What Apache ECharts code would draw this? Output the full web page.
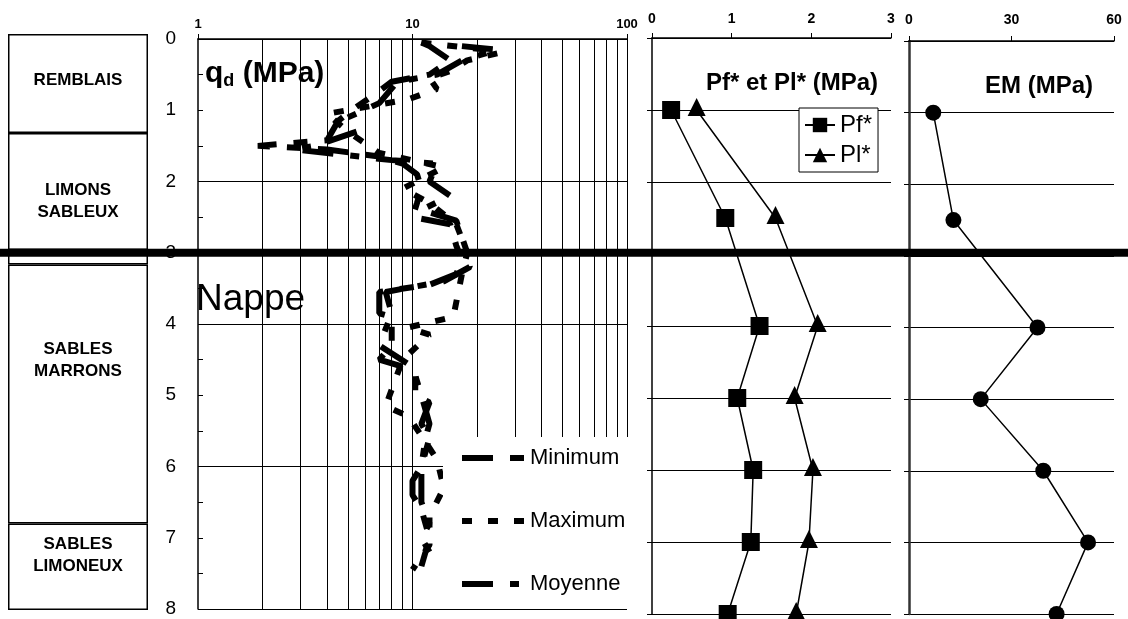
<!DOCTYPE html>
<html>
<head>
<meta charset="utf-8">
<script src="https://cdn.jsdelivr.net/npm/echarts@6/dist/echarts.min.js"></script>
<style>
  html, body { margin: 0; padding: 0; background: #fff; }
  #chart { width: 1128px; height: 619px; }
</style>
</head>
<body>
<div id="chart"></div>
<script>
// soil column (thickness in m, top to bottom)
const layerNames = ['REMBLAIS', 'LIMONS\nSABLEUX', '', 'SABLES\nMARRONS', 'SABLES\nLIMONEUX']
const layerThickness = [1.375, 1.625, 0.2, 3.6, 1.2]
const nappeDepth = 3

// penetrometer qd profiles: [qd (MPa), depth (m)]
const qdMin = [[11, 0.05], [12, 0.1], [15, 0.3], [12, 0.5], [8, 0.6], [6.5, 0.8], [5.2, 1.0], [4.5, 1.15],
  [4, 1.42], [1.9, 1.5], [4, 1.55], [7, 1.65], [9, 1.75], [10.5, 1.9], [11, 2.1], [10.5, 2.3], [10, 2.5],
  [15, 2.6], [16, 2.9], [17, 3.1], [16, 3.3], [12, 3.45], [7, 3.55], [7, 3.85], [8, 3.9], [8, 4.3], [7, 4.5],
  [9, 4.6], [10.3, 4.7], [10.3, 5.0], [12, 5.1], [11, 5.4], [12, 5.6], [11, 6.0], [10, 6.2], [10, 6.4],
  [11, 6.6], [12, 7.0], [11.5, 7.2], [11, 7.4]]
const qdMax = [[11, 0.05], [22, 0.15], [25, 0.2], [18, 0.3], [15, 0.45], [12, 0.55], [13, 0.7], [9.5, 0.85],
  [4, 1.05], [5, 1.3], [7, 1.6], [14, 1.8], [9, 2.1], [12, 2.3], [16, 2.6], [18, 3.0], [17, 3.3], [15.5, 3.9],
  [9.5, 4.05], [12, 4.15], [9, 4.5], [7.5, 5.15], [9.6, 5.3], [13, 5.9], [14, 6.3], [12, 6.7], [12, 7.1], [10, 7.45]]
const qdMoy = [[17, 0.1], [25, 0.15], [17, 0.3], [13, 0.5], [8.5, 0.6], [7, 0.9], [5, 1.1], [5.5, 1.3],
  [3.5, 1.5], [2.8, 1.55], [4, 1.6], [8, 1.7], [13, 1.75], [12, 2.0], [15, 2.2], [11, 2.4], [16, 2.55],
  [18, 3.0], [18.5, 3.2], [14, 3.4], [7.5, 3.55], [8, 3.85], [7, 4.3], [10, 4.6], [11, 5.0], [12, 5.4],
  [11.5, 5.6], [11, 6.0], [11, 6.5], [12, 6.8], [11, 7.0], [12, 7.2]]
const qdGridValues = [2, 3, 4, 5, 6, 7, 8, 9, 10, 20, 30, 40, 50, 60, 70, 80, 90, 100]

// pressiometer tests
const pmDepth = [1, 2.5, 4, 5, 6, 7, 8]
const pfValues = [0.24, 0.92, 1.35, 1.07, 1.27, 1.24, 0.95]
const plValues = [0.56, 1.55, 2.08, 1.79, 2.02, 1.97, 1.81]
const emValues = [7.1, 13, 37.6, 21, 39.3, 52.4, 43.2]

const font = 'Arial, "Liberation Sans", sans-serif'
const labelDy = [-3, 10, 0, -34, -11]
const dashMin = [31, 17, 14, 17]
const dashMax = [10, 16]
const dashMoy = [31, 17, 9, 17]

const chart = echarts.init(document.getElementById('chart'))

const depthAxis = (grid, extra) => Object.assign({
  type: 'value', gridIndex: grid, inverse: true, min: 0, max: 8, interval: 1,
  axisLine: { show: true, lineStyle: { color: '#000', width: 1.5 } },
  axisTick: { show: true, length: 5, lineStyle: { color: '#000' } },
  axisLabel: { show: false },
  splitLine: { show: true, lineStyle: { color: '#000', width: 1 } }
}, extra)

const topAxis = (grid, min, max, interval, margin, extra) => Object.assign({
  type: 'value', gridIndex: grid, position: 'top', min: min, max: max, interval: interval,
  axisLine: { show: true, lineStyle: { color: '#000', width: 1.5 } },
  axisTick: { show: true, length: 5, lineStyle: { color: '#000' } },
  axisLabel: { fontFamily: font, fontWeight: 'bold', fontSize: 14, color: '#000', margin: margin },
  splitLine: { show: false }
}, extra)

const soilSeries = layerNames.map((name, i) => ({
  type: 'bar', name: 'layer' + i, xAxisIndex: 0, yAxisIndex: 0, stack: 'soil',
  barWidth: '100%', data: [layerThickness[i]],
  itemStyle: { color: '#fff', borderColor: '#000', borderWidth: 1.5 },
  label: {
    show: name !== '', position: 'inside', offset: [0, labelDy[i]], formatter: name,
    fontFamily: font, fontWeight: 'bold', fontSize: 17, lineHeight: 22, color: '#000'
  }
}))

const qdLine = (name, data, dash) => ({
  type: 'line', name: name, xAxisIndex: 1, yAxisIndex: 1, data: data, z: 2,
  symbol: 'none', itemStyle: { color: '#000' },
  lineStyle: { color: '#000', width: 6, type: dash }
})

// log grid lines of the qd panel hang on the first qd series
const minSeries = qdLine('Minimum', qdMin, dashMin)
minSeries.z = 1
minSeries.markLine = {
  silent: true, symbol: ['none', 'none'], label: { show: false }, animation: false,
  lineStyle: { color: '#000', width: 1, type: 'solid' },
  data: qdGridValues.map(v => ({ xAxis: v }))
}

const qdLegendItem = (name, dash) => ({
  name: name,
  itemStyle: { opacity: 0 },
  lineStyle: { color: '#000', width: 6, type: dash, opacity: 1 }
})

const option = {
  animation: false,
  backgroundColor: '#fff',
  grid: [
    { left: 8, top: 34, width: 140, height: 576, outerBoundsMode: 'none' },
    { left: 198, top: 39, width: 429, height: 570, outerBoundsMode: 'none' },
    { left: 652, top: 38, width: 239, height: 576, outerBoundsMode: 'none' },
    { left: 909, top: 41, width: 205, height: 573, outerBoundsMode: 'none' }
  ],
  title: [
    {
      text: '{a|q}{b|d}{a| (MPa)}', left: 205, top: 58, padding: 0,
      textStyle: { rich: {
        a: { fontFamily: font, fontWeight: 'bold', fontSize: 30, color: '#000' },
        b: { fontFamily: font, fontWeight: 'bold', fontSize: 18, color: '#000', padding: [14, 0, 0, 0] }
      } }
    },
    { text: 'Nappe', left: 196, top: 281, padding: 0,
      textStyle: { fontFamily: font, fontWeight: 'normal', fontSize: 37, color: '#000' } },
    { text: 'Pf* et Pl* (MPa)', left: 706, top: 71, padding: 0,
      textStyle: { fontFamily: font, fontWeight: 'bold', fontSize: 24, color: '#000' } },
    { text: 'EM (MPa)', left: 985, top: 74, padding: 0,
      textStyle: { fontFamily: font, fontWeight: 'bold', fontSize: 24, color: '#000' } }
  ],
  legend: [
    {
      data: [qdLegendItem('Minimum', dashMin), qdLegendItem('Maximum', dashMax), qdLegendItem('Moyenne', dashMoy)],
      orient: 'vertical', left: 443, top: 437,
      padding: [10, 10, 14, 16], itemWidth: 62, itemHeight: 20, itemGap: 41,
      backgroundColor: '#fff', selectedMode: false, z: 60,
      textStyle: { fontFamily: font, fontSize: 22, color: '#000', padding: [0, 0, 0, 1] }
    },
    {
      data: ['Pf*', 'Pl*'], orient: 'vertical', left: 799, top: 108,
      padding: [5, 6, 5, 5], itemWidth: 30, itemHeight: 18, itemGap: 6,
      borderColor: '#000', borderWidth: 1, backgroundColor: '#fff', selectedMode: false,
      textStyle: { fontFamily: font, fontSize: 24, color: '#000' }
    }
  ],
  xAxis: [
    { type: 'category', gridIndex: 0, data: ['sol'], show: false },
    topAxis(1, 1, 100, null, 8, { type: 'log', logBase: 10, interval: undefined,
      axisLabel: { fontFamily: font, fontWeight: 'bold', fontSize: 13, color: '#000', margin: 8 } }),
    topAxis(2, 0, 3, 1, 12),
    topAxis(3, 0, 60, 30, 14)
  ],
  yAxis: [
    { type: 'value', gridIndex: 0, inverse: true, min: 0, max: 8, show: false },
    depthAxis(1, {
      axisTick: { show: true, inside: true, length: 5, lineStyle: { color: '#000' } },
      minorTick: { show: true, splitNumber: 2, length: 5, lineStyle: { color: '#000' } },
      axisLabel: { show: true, fontFamily: '"Liberation Sans Narrow", Arial, sans-serif',
        fontSize: 19, color: '#000', margin: 22 },
      splitLine: { show: false }
    }),
    depthAxis(1, { interval: 2, axisLine: { show: false }, axisTick: { show: false } }),
    depthAxis(2),
    depthAxis(3, { axisLine: { show: true, lineStyle: { color: '#333', width: 2.5 } } })
  ],
  series: soilSeries.concat([
    minSeries,
    qdLine('Maximum', qdMax, dashMax),
    qdLine('Moyenne', qdMoy, dashMoy),
    {
      type: 'line', name: 'Pf*', xAxisIndex: 2, yAxisIndex: 3,
      data: pfValues.map((v, i) => [v, pmDepth[i]]),
      symbol: 'rect', symbolSize: 18, itemStyle: { color: '#000' },
      lineStyle: { color: '#000', width: 1.5 }
    },
    {
      type: 'line', name: 'Pl*', xAxisIndex: 2, yAxisIndex: 3,
      data: plValues.map((v, i) => [v, pmDepth[i]]),
      symbol: 'triangle', symbolSize: 18, symbolOffset: [0, -3], itemStyle: { color: '#000' },
      lineStyle: { color: '#000', width: 1.5 }
    },
    {
      type: 'line', name: 'EM', xAxisIndex: 3, yAxisIndex: 4,
      data: emValues.map((v, i) => [v, pmDepth[i]]),
      symbol: 'circle', symbolSize: 16, itemStyle: { color: '#000' },
      lineStyle: { color: '#000', width: 1.5 }
    }
  ])
}

chart.setOption(option)

// water table line across the whole figure (qd depth scale), and a white
// backing for the qd legend so that the log grid stops behind it
const nappeY = chart.convertToPixel({ yAxisIndex: 1 }, nappeDepth)
chart.setOption({
  graphic: [
    {
      type: 'rect', z: 100, silent: true,
      shape: { x: 0, y: nappeY - 4, width: 1128, height: 8 },
      style: { fill: '#000' }
    },
    {
      type: 'rect', z: 50, silent: true,
      shape: { x: 445, y: 437, width: 181, height: 166 },
      style: { fill: '#fff' }
    }
  ]
})
</script>
</body>
</html>
